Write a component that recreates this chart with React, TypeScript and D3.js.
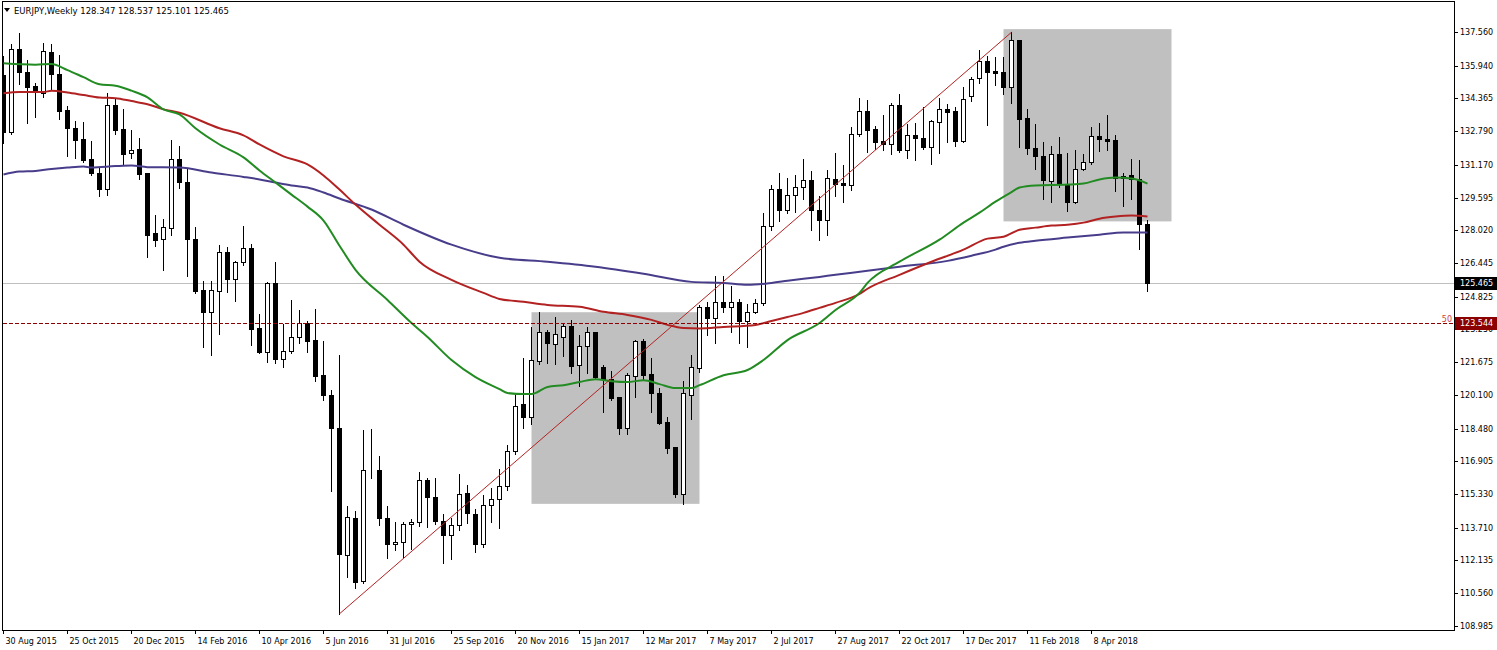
import React from 'react';
import * as d3 from 'd3';

// ---------- data (weekly EURJPY, bar 0 = week of 30 Aug 2015) ----------
const opens = [
  135.50, 132.75, 136.74, 135.62, 134.95, 134.65, 136.58, 135.53, 133.80, 132.96,
  132.40, 131.43, 130.80, 130.02, 134.04, 132.88, 131.74, 131.91, 130.76, 127.89,
  127.60, 128.13, 131.46, 130.35, 127.60, 125.14, 124.11, 125.12, 126.98, 125.70,
  126.49, 127.17, 123.31, 122.18, 125.48, 121.84, 122.20, 122.87, 123.55, 122.74,
  121.04, 120.12, 118.53, 112.40, 114.19, 111.16, 116.50, 116.50, 114.19, 112.93,
  113.03, 113.90, 114.00, 116.02, 115.21, 114.04, 113.35, 113.85, 115.37, 114.38,
  112.93, 114.81, 115.10, 115.73, 117.42, 119.65, 119.04, 121.74, 123.12, 122.54,
  122.90, 123.42, 121.52, 122.44, 123.12, 121.43, 120.88, 119.98, 118.51, 121.02,
  122.68, 121.09, 120.17, 118.79, 117.58, 115.35, 120.12, 121.39, 124.32, 123.79,
  124.56, 124.35, 124.56, 123.68, 124.11, 124.51, 128.21, 130.02, 129.02, 129.71,
  130.11, 130.43, 129.02, 128.50, 130.50, 130.32, 130.21, 132.67, 133.76, 132.88,
  132.30, 132.19, 134.07, 131.90, 132.62, 132.48, 132.04, 133.25, 133.88, 133.75,
  132.31, 134.49, 135.33, 136.15, 135.68, 135.66, 134.92, 137.17, 133.41, 131.99,
  131.62, 130.38, 131.71, 130.22, 129.37, 130.98, 131.32, 132.57, 132.43, 132.35,
  130.55, 130.66, 130.51, 128.347,
];
const highs = [
  136.42, 136.98, 137.51, 136.21, 135.13, 137.03, 136.98, 136.45, 133.99, 133.26,
  133.22, 132.30, 131.03, 134.65, 134.33, 133.84, 132.83, 132.48, 130.80, 128.78,
  128.57, 132.35, 132.07, 130.95, 128.18, 125.59, 125.59, 127.33, 127.20, 126.56,
  128.25, 127.38, 124.00, 125.53, 126.49, 123.52, 124.67, 124.19, 123.66, 124.24,
  122.70, 120.33, 122.02, 114.78, 114.50, 118.40, 118.45, 117.15, 114.78, 114.01,
  113.97, 114.14, 116.37, 116.12, 116.08, 114.38, 114.19, 116.28, 115.79, 114.62,
  115.30, 115.63, 116.55, 117.68, 120.12, 121.86, 123.39, 124.08, 123.23, 123.84,
  123.52, 123.71, 122.99, 123.36, 123.15, 121.54, 121.26, 120.01, 121.14, 122.74,
  122.78, 121.86, 120.41, 119.04, 117.59, 120.76, 122.02, 124.43, 124.59, 125.83,
  125.83, 125.35, 124.71, 124.48, 124.72, 128.86, 130.18, 130.79, 130.55, 130.66,
  131.43, 130.87, 129.66, 130.91, 131.75, 131.14, 132.98, 134.38, 134.28, 133.04,
  133.55, 134.13, 134.57, 133.15, 133.17, 133.95, 133.33, 134.41, 134.09, 133.95,
  134.94, 135.42, 136.69, 136.42, 136.35, 136.35, 137.55, 137.20, 133.84, 133.12,
  132.27, 132.07, 132.49, 131.75, 131.87, 131.67, 132.99, 133.17, 133.55, 132.59,
  130.79, 131.43, 131.38, 128.537,
];
const lows = [
  132.24, 132.67, 135.05, 133.18, 133.47, 134.44, 134.81, 133.36, 131.59, 131.51,
  131.30, 130.67, 129.66, 129.74, 132.67, 131.16, 131.51, 130.48, 126.76, 127.29,
  126.12, 127.81, 130.07, 125.80, 125.00, 122.42, 122.02, 123.03, 125.07, 124.63,
  126.36, 122.50, 122.13, 121.70, 121.65, 121.45, 122.13, 122.61, 122.18, 120.78,
  119.85, 115.47, 109.57, 111.32, 110.81, 111.03, 116.12, 113.86, 112.24, 112.64,
  112.29, 112.69, 113.78, 113.73, 113.90, 112.00, 112.19, 113.61, 113.93, 112.53,
  112.77, 113.97, 113.68, 115.54, 117.24, 118.51, 118.68, 121.57, 121.65, 121.57,
  121.97, 121.17, 120.54, 121.14, 120.86, 119.28, 119.85, 118.24, 118.24, 120.01,
  120.81, 119.28, 118.72, 117.30, 115.18, 114.83, 118.92, 121.20, 122.99, 122.58,
  124.11, 123.14, 122.61, 122.39, 124.03, 124.43, 128.05, 128.49, 128.86, 128.89,
  129.55, 128.05, 127.57, 127.81, 129.66, 129.37, 129.98, 132.54, 131.78, 131.91,
  131.88, 131.67, 131.78, 131.49, 131.40, 131.91, 131.20, 131.72, 132.27, 132.07,
  132.27, 134.24, 135.13, 133.07, 135.00, 134.57, 134.13, 132.02, 131.67, 130.95,
  129.55, 129.37, 130.11, 128.94, 129.33, 130.93, 131.22, 131.83, 131.87, 129.90,
  129.21, 129.55, 127.14, 125.101,
];
const closes = [
  132.77, 136.74, 135.62, 134.92, 134.73, 136.63, 135.53, 133.76, 132.93, 132.35,
  131.38, 130.76, 130.03, 134.04, 132.83, 131.71, 131.90, 130.71, 127.81, 127.54,
  128.18, 131.46, 130.35, 127.60, 125.12, 124.11, 125.14, 126.98, 125.70, 126.49,
  127.17, 123.29, 122.18, 125.48, 121.84, 122.20, 122.87, 123.55, 122.71, 121.01,
  120.10, 118.51, 112.43, 114.22, 111.08, 116.50, 116.48, 114.17, 112.93, 113.03,
  113.90, 114.01, 116.02, 115.18, 114.02, 113.35, 113.86, 115.35, 114.43, 112.93,
  114.81, 115.10, 115.73, 117.42, 119.59, 119.04, 121.76, 123.12, 122.61, 123.02,
  123.42, 121.50, 122.44, 123.12, 120.94, 120.85, 119.96, 118.51, 121.04, 122.68,
  121.05, 120.17, 118.75, 117.55, 115.35, 120.17, 121.43, 124.34, 123.79, 124.56,
  124.35, 124.59, 123.68, 124.11, 124.54, 128.21, 130.02, 129.02, 129.71, 130.11,
  130.43, 128.98, 128.50, 130.55, 130.27, 130.21, 132.64, 133.76, 132.85, 132.27,
  132.15, 134.07, 131.88, 132.62, 132.46, 132.02, 133.26, 133.88, 133.71, 132.31,
  134.36, 135.28, 136.15, 135.62, 135.60, 134.92, 137.17, 133.36, 131.96, 131.59,
  130.43, 131.71, 130.27, 129.37, 130.98, 131.33, 132.57, 132.41, 132.31, 130.55,
  130.63, 130.51, 128.34, 125.465,
];

// moving averages: [bar index, price]
const maGreen: [number, number][] = [
  [0, 136.06], [4, 135.99], [6, 136.02], [8, 135.73], [10, 135.39], [12, 135.05], [14, 134.98],
  [16, 134.74], [18, 134.42], [20, 133.84], [22, 133.6], [24, 132.93], [27, 132.15], [30, 131.53],
  [32, 130.9], [34, 130.32], [36, 129.74], [38, 129.16], [40, 128.49], [42, 127.28], [44, 126.12],
  [48, 124.67], [51, 123.56], [53, 122.89], [56, 121.78], [59, 120.96], [62, 120.38], [63, 120.19],
  [65, 120.14], [66, 120.14], [68, 120.48], [70, 120.57], [72, 120.72], [74, 120.86], [76, 120.76],
  [78, 120.72], [80, 120.81], [82, 120.62], [84, 120.43], [86, 120.43], [87, 120.57], [90, 121.05],
  [93, 121.3], [95, 121.78], [98, 122.74], [102, 123.56], [104, 124.19], [107, 125.01], [108, 125.49],
  [112, 126.51], [117, 127.57], [120, 128.39], [122, 128.87], [124, 129.4], [126, 129.86], [127, 130.08],
  [129, 130.18], [133, 130.22], [135, 130.27], [137, 130.47], [139, 130.56], [141, 130.51], [143, 130.27],
];
const maRed: [number, number][] = [
  [0, 134.62], [2, 134.68], [5, 134.68], [6, 134.73], [8, 134.65], [10, 134.53], [12, 134.41],
  [14, 134.38], [16, 134.24], [18, 134.09], [20, 133.84], [22, 133.68], [27, 132.93], [30, 132.59],
  [32, 132.15], [35, 131.58], [38, 131.19], [40, 130.66], [42, 129.98], [44, 129.26], [47, 128.29],
  [50, 127.33], [52, 126.51], [56, 125.64], [60, 125.01], [62, 124.72], [65, 124.58], [68, 124.43],
  [72, 124.34], [75, 124.1], [78, 123.95], [81, 123.71], [83, 123.47], [85, 123.32], [87, 123.3],
  [90, 123.37], [94, 123.47], [96, 123.66], [98, 123.85], [100, 124.05], [102, 124.29], [104, 124.53],
  [107, 124.96], [108, 125.21], [112, 125.88], [116, 126.51], [120, 127.09], [123, 127.62], [125, 127.71],
  [127, 128.05], [129, 128.15], [131, 128.25], [133, 128.29], [135, 128.39], [137, 128.58], [139, 128.68],
  [141, 128.73], [143, 128.68],
];
const maBlue: [number, number][] = [
  [0, 130.71], [2, 130.85], [4, 130.88], [6, 130.97], [8, 131.04], [10, 131.09], [11, 131.04],
  [14, 131.11], [16, 131.14], [18, 131.06], [22, 131.04], [26, 130.8], [30, 130.59], [32, 130.47],
  [34, 130.32], [36, 130.18], [38, 130.08], [40, 129.84], [42, 129.55], [46, 129.02], [50, 128.29],
  [56, 127.33], [62, 126.7], [68, 126.51], [74, 126.27], [80, 125.93], [86, 125.54], [90, 125.49],
  [93, 125.4], [96, 125.49], [98, 125.59], [102, 125.78], [104, 125.88], [108, 126.07], [112, 126.27],
  [118, 126.55], [121, 126.8], [124, 127.09], [125, 127.23], [127, 127.42], [129, 127.52], [133, 127.67],
  [137, 127.81], [140, 127.91], [143, 127.91],
];

// objects
const boxBars1 = [66, 87];
const boxPrices1 = [124.08, 114.86];
const boxBars2 = [125, 146];
const boxPrices2 = [137.7, 128.45];
const trendBars = [42, 126];
const trendPrices = [109.57, 137.55];
const fiboLevel = 123.544;
const fiboLabel = '50';
const lastPrice = 125.465;

const priceTicks = [
  137.56, 135.94, 134.365, 132.79, 131.17, 129.595, 128.02, 126.445, 124.825, 123.25,
  121.675, 120.1, 118.48, 116.905, 115.33, 113.71, 112.135, 110.56, 108.985,
];
const dateLabels = [
  '30 Aug 2015', '25 Oct 2015', '20 Dec 2015', '14 Feb 2016', '10 Apr 2016', '5 Jun 2016',
  '31 Jul 2016', '25 Sep 2016', '20 Nov 2016', '15 Jan 2017', '12 Mar 2017', '7 May 2017',
  '2 Jul 2017', '27 Aug 2017', '22 Oct 2017', '17 Dec 2017', '11 Feb 2018', '8 Apr 2018',
];
const dateLabelBars = [0, 8, 16, 24, 32, 40, 48, 56, 64, 72, 80, 88, 96, 104, 112, 120, 128, 136];
const headerText = 'EURJPY,Weekly  128.347 128.537 125.101 125.465';

// ---------- layout ----------
const W = 1497;
const H = 650;
const PL = 3;
const PR = 1454;
const PT = 2;
const PB = 630;
const FONT = 'DejaVu Sans, Verdana, sans-serif';

export default function App() {
  const x = d3.scaleLinear().domain([0, 143]).range([3.5, 1147.5]);
  const y = d3.scaleLinear().domain([108.985, 137.56]).range([625.95, 32.05]);
  const ry = (p: number) => Math.round(y(p));

  const line = d3
    .line<[number, number]>()
    .x((d) => x(d[0]))
    .y((d) => y(d[1]))
    .curve(d3.curveMonotoneX);

  const candles = opens.map((o, i) => {
    const c = closes[i];
    const h = highs[i];
    const l = lows[i];
    const cx = x(i);
    const top = ry(Math.max(o, c));
    const bot = ry(Math.min(o, c));
    const bull = c >= o;
    return (
      <g key={i}>
        <line x1={cx} x2={cx} y1={ry(h)} y2={ry(l) + 1} stroke="#000" strokeWidth={1} />
        <rect
          x={cx - 2}
          y={top + 0.5}
          width={4}
          height={Math.max(bot - top, 0)}
          fill={bull ? '#fff' : '#000'}
          stroke="#000"
          strokeWidth={1}
        />
      </g>
    );
  });

  const box = (bars: number[], prices: number[], k: string) => (
    <rect
      key={k}
      x={x(bars[0])}
      y={y(prices[0])}
      width={x(bars[1]) - x(bars[0])}
      height={y(prices[1]) - y(prices[0])}
      fill="#c0c0c0"
    />
  );

  const yLast = Math.round(y(lastPrice)) + 0.5;
  const yFib = Math.round(y(fiboLevel)) + 0.5;

  return (
    <svg
      width={W}
      height={H}
      style={{ position: 'absolute', left: 0, top: 0, background: '#fff' }}
      fontFamily={FONT}
    >
      <defs>
        <clipPath id="plot">
          <rect x={PL} y={PT} width={PR - PL} height={PB - PT} />
        </clipPath>
      </defs>
      <rect x={0} y={0} width={W} height={H} fill="#fff" />

      <g clipPath="url(#plot)">
        {box(boxBars1, boxPrices1, 'b1')}
        {box(boxBars2, boxPrices2, 'b2')}
        <line x1={PL} x2={PR} y1={yLast} y2={yLast} stroke="#c0c0c0" strokeWidth={1} />
        <g shapeRendering="crispEdges">{candles}</g>
        <path d={line(maBlue) || ''} fill="none" stroke="#483d8b" strokeWidth={2} />
        <path d={line(maRed) || ''} fill="none" stroke="#b22222" strokeWidth={2} />
        <path d={line(maGreen) || ''} fill="none" stroke="#228b22" strokeWidth={2} />
        <line
          x1={x(trendBars[0])}
          y1={y(trendPrices[0])}
          x2={x(trendBars[1])}
          y2={y(trendPrices[1])}
          stroke="#b22222"
          strokeWidth={1}
        />
        <line
          x1={PL}
          x2={PR}
          y1={yFib}
          y2={yFib}
          stroke="#8b0000"
          strokeWidth={1}
          strokeDasharray="4,2"
          shapeRendering="crispEdges"
        />
        <text x={1452} y={yFib - 2} fontSize={8} fill="#d04040" textAnchor="end">
          {fiboLabel}
        </text>
      </g>

      {/* frame */}
      <rect
        x={2.5}
        y={1.5}
        width={PR - 2}
        height={PB - 1}
        fill="none"
        stroke="#000"
        strokeWidth={1}
        shapeRendering="crispEdges"
      />

      {/* price axis */}
      <g fontSize={8} fill="#000">
        {priceTicks.map((p) => {
          const yy = Math.round(y(p)) + 0.5;
          return (
            <g key={p}>
              <line x1={PR + 0.5} x2={PR + 4} y1={yy} y2={yy} stroke="#000" strokeWidth={1} />
              <text x={PR + 6} y={yy} dominantBaseline="central">
                {p.toFixed(3)}
              </text>
            </g>
          );
        })}
        <rect x={PR + 1} y={yLast - 6.5} width={W - PR} height={13} fill="#000" />
        <text x={PR + 6} y={yLast} dominantBaseline="central" fill="#fff">
          {lastPrice.toFixed(3)}
        </text>
        <rect x={PR + 1} y={yFib - 6.5} width={W - PR} height={13} fill="#8b0000" />
        <text x={PR + 6} y={yFib} dominantBaseline="central" fill="#fff">
          {fiboLevel.toFixed(3)}
        </text>
      </g>

      {/* time axis */}
      <g fontSize={8} fill="#000">
        {dateLabels.map((t, i) => {
          const xx = x(dateLabelBars[i]);
          return (
            <g key={t}>
              <line x1={xx} x2={xx} y1={PB} y2={PB + 4} stroke="#000" strokeWidth={1} />
              <text x={xx + 2} y={644}>
                {t}
              </text>
            </g>
          );
        })}
      </g>

      {/* header */}
      <path d="M4,8 L10,8 L7,12 Z" fill="#000" />
      <text x={14} y={13.5} fontSize={8.5} fill="#000">
        {headerText}
      </text>
    </svg>
  );
}
